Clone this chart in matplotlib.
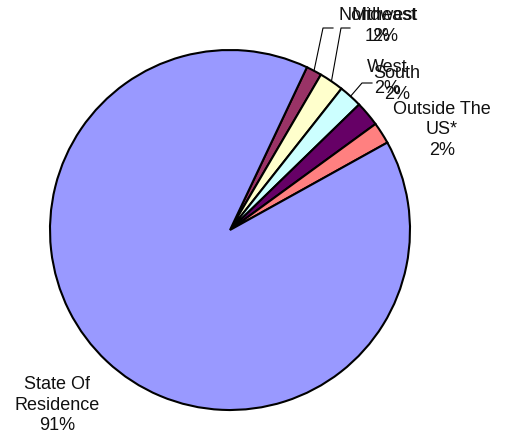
import numpy as np
import matplotlib
matplotlib.use("Agg")
import matplotlib.pyplot as plt
from matplotlib.lines import Line2D

regions = ["Northeast", "Midwest", "West", "South", "Outside The\nUS*", "State Of\nResidence"]
shares = [1.4, 2.2, 2.1, 2.25, 1.95, 90.1]
pct_labels = ["1%", "2%", "2%", "2%", "2%", "91%"]
colors = ["#993366", "#FFFFCC", "#CCFFFF", "#660066", "#FF8080", "#9999FF"]

W, H = 510, 440
plt.rcParams["font.family"] = ["Liberation Sans", "DejaVu Sans"]

fig = plt.figure(figsize=(W / 100, H / 100), dpi=100)
ax = fig.add_axes([50 / W, 30 / H, 360 / W, 360 / H])
wedges, _ = ax.pie(shares, colors=colors, startangle=64.7, counterclock=False,
                   wedgeprops=dict(edgecolor="black", linewidth=1.5))
ax.set_xlim(-1, 1)
ax.set_ylim(-1, 1)
ax.set_aspect("auto")


def fpix(x, y):
    # top-down pixel position -> figure fraction
    return x / W, 1 - y / H


def rim_pix(w):
    a = np.deg2rad((w.theta1 + w.theta2) / 2)
    disp = ax.transData.transform((np.cos(a), np.sin(a)))
    fx, fy = fig.transFigure.inverted().transform(disp)
    return fx * W, (1 - fy) * H


# label centres (pixels, top-down) and optional leader elbows
label_pos = [(378, 26), (385, 26), (387, 78), (397, 84), (442, 130), (57, 405)]
elbows = {0: [(323, 28), (333, 28)], 1: [(341, 28), (350, 28)], 2: [(362, 83), (372, 83)]}

for i, (name, pct) in enumerate(zip(regions, pct_labels)):
    x, y = label_pos[i]
    fx, fy = fpix(x, y)
    fig.text(fx, fy, f"{name}\n{pct}", ha="center", va="center", fontsize=13,
             linespacing=1.3, color="#111111")
    if i in elbows:
        pts = [rim_pix(wedges[i])] + elbows[i]
        xs = [p[0] / W for p in pts]
        ys = [1 - p[1] / H for p in pts]
        fig.add_artist(Line2D(xs, ys, color="black", linewidth=0.8,
                              transform=fig.transFigure))

fig.savefig("out.png", dpi=100, facecolor="white")
